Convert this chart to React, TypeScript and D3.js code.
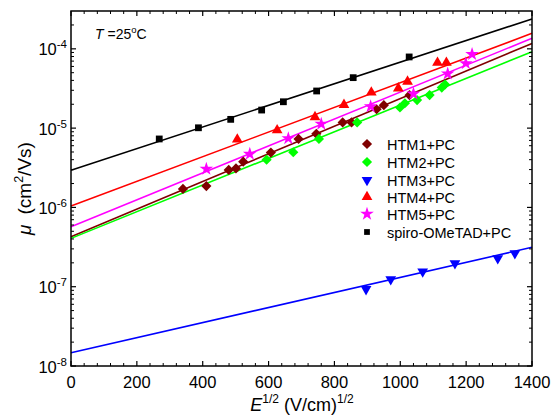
import React from "react";
import * as d3 from "d3";

// ---- data ----
const xTicks = [0, 200, 400, 600, 800, 1000, 1200, 1400];
const yDecades = [1e-8, 1e-7, 1e-6, 1e-5, 1e-4];
const yExp = ["-8", "-7", "-6", "-5", "-4"];

const htm1X = [340, 411, 479, 501, 523, 607, 691, 745, 825, 852, 928, 950, 1028];
const htm1Y = [1.71e-6, 1.86e-6, 2.97e-6, 3.1e-6, 3.77e-6, 4.92e-6, 7.3e-6, 8.48e-6, 1.18e-5, 1.18e-5, 1.73e-5, 1.95e-5, 2.6e-5];

const htm2X = [594, 675, 753, 869, 999, 1014, 1051, 1089, 1126, 1136];
const htm2Y = [4.0e-6, 4.96e-6, 7.3e-6, 1.18e-5, 1.82e-5, 2.06e-5, 2.26e-5, 2.61e-5, 3.25e-5, 3.55e-5];

const htm3X = [896, 971, 1068, 1166, 1296, 1348];
const htm3Y = [9.3e-8, 1.24e-7, 1.55e-7, 1.97e-7, 2.28e-7, 2.64e-7];

const htm4X = [505, 626, 741, 829, 912, 994, 1022, 1113, 1140];
const htm4Y = [7.2e-6, 9.4e-6, 1.38e-5, 1.97e-5, 2.82e-5, 3.18e-5, 3.87e-5, 6.68e-5, 6.68e-5];

const htm5X = [411, 543, 660, 760, 910, 1040, 1144, 1199, 1218];
const htm5Y = [3.05e-6, 4.71e-6, 7.43e-6, 1.13e-5, 1.88e-5, 2.71e-5, 4.85e-5, 6.56e-5, 8.53e-5];

const spiroX = [268, 387, 485, 579, 645, 746, 857, 1027];
const spiroY = [7.3e-6, 1.01e-5, 1.29e-5, 1.69e-5, 2.15e-5, 2.94e-5, 4.33e-5, 7.9e-5];

// fitted lines: value at E^1/2 = 0 and at 1400
const fitStart = [4.27e-7, 4.07e-7, 1.47e-8, 1.04e-6, 5.7e-7, 2.95e-6];
const fitEnd = [1.17e-4, 9.2e-5, 3.14e-7, 1.57e-4, 1.36e-4, 2.38e-4];

const names = ["HTM1+PC", "HTM2+PC", "HTM3+PC", "HTM4+PC", "HTM5+PC", "spiro-OMeTAD+PC"];
const colors = ["#800000", "#00ff00", "#0000ff", "#ff0000", "#ff00ff", "#000000"];
const shapes = ["diamond", "diamond", "tdown", "tup", "star", "square"];
const seriesX = [htm1X, htm2X, htm3X, htm4X, htm5X, spiroX];
const seriesY = [htm1Y, htm2Y, htm3Y, htm4Y, htm5Y, spiroY];

// ---- layout ----
const L = 71, R = 532, T = 11, B = 366;
const FONT = "'Liberation Sans', Arial, sans-serif";

function symPath(shape: string): { d: string; rot: number } {
  if (shape === "diamond") return { d: d3.symbol(d3.symbolSquare, 52)()!, rot: 45 };
  if (shape === "square") return { d: d3.symbol(d3.symbolSquare, 46)()!, rot: 0 };
  if (shape === "tup") return { d: d3.symbol(d3.symbolTriangle, 50)()!, rot: 0 };
  if (shape === "tdown") return { d: d3.symbol(d3.symbolTriangle, 50)()!, rot: 180 };
  return { d: d3.symbol(d3.symbolStar, 58)()!, rot: 0 };
}

export default function App() {
  const x = d3.scaleLinear().domain([0, 1400]).range([L, R]);
  const y = d3.scaleLog().domain([1e-8, 3.0e-4]).range([B, T]);

  const xMinor = d3.range(0, 1401, 40).filter((v) => v % 200 !== 0);
  const yMinor: number[] = [];
  for (const dcd of yDecades) {
    for (let k = 2; k <= 9; k++) {
      const v = dcd * k;
      if (v < 3.0e-4 * 0.999) yMinor.push(v);
    }
  }

  const legendY = [144, 162, 180, 197, 214, 232];

  return (
    <svg width={552} height={418} style={{ position: "absolute", left: 0, top: 0, background: "#fff" }}>
      {/* fits */}
      {fitStart.map((s, i) => {
        const xs = [0, 1400];
        const b = (Math.log10(fitEnd[i]) - Math.log10(s)) / 1400;
        const lg = d3
          .line<number>()
          .x((v) => x(v))
          .y((v) => y(Math.pow(10, Math.log10(s) + b * v)));
        return <path key={"f" + i} d={lg(xs)!} stroke={colors[i]} strokeWidth={1.6} fill="none" />;
      })}
      {/* points */}
      {seriesX.map((xs, i) => {
        const sp = symPath(shapes[i]);
        return (
          <g key={"s" + i} fill={colors[i]}>
            {xs.map((xv, j) => (
              <path
                key={j}
                d={sp.d}
                transform={`translate(${x(xv)},${y(seriesY[i][j])}) rotate(${sp.rot})`}
              />
            ))}
          </g>
        );
      })}
      {/* frame */}
      <rect x={L} y={T} width={R - L} height={B - T} fill="none" stroke="#000" strokeWidth={1.5} />
      {/* x ticks */}
      {xTicks.map((v) => (
        <g key={"xt" + v}>
          <line x1={x(v)} x2={x(v)} y1={B} y2={B - 5} stroke="#000" strokeWidth={1.2} />
          <line x1={x(v)} x2={x(v)} y1={T} y2={T + 5} stroke="#000" strokeWidth={1.2} />
          <text x={x(v)} y={388} textAnchor="middle" fontFamily={FONT} fontSize={16.5}>
            {v}
          </text>
        </g>
      ))}
      {xMinor.map((v) => (
        <g key={"xm" + v}>
          <line x1={x(v)} x2={x(v)} y1={B} y2={B - 3} stroke="#000" strokeWidth={1} />
          <line x1={x(v)} x2={x(v)} y1={T} y2={T + 3} stroke="#000" strokeWidth={1} />
        </g>
      ))}
      {/* y ticks */}
      {yDecades.map((v, i) => (
        <g key={"yt" + i}>
          <line x1={L} x2={L + 5} y1={y(v)} y2={y(v)} stroke="#000" strokeWidth={1.2} />
          <line x1={R} x2={R - 5} y1={y(v)} y2={y(v)} stroke="#000" strokeWidth={1.2} />
          <text x={67} y={y(v) + 6.5} textAnchor="end" fontFamily={FONT} fontSize={16.5}>
            10
            <tspan fontSize={11.5} dy={-7}>
              {yExp[i]}
            </tspan>
          </text>
        </g>
      ))}
      {yMinor.map((v, i) => (
        <g key={"ym" + i}>
          <line x1={L} x2={L + 3} y1={y(v)} y2={y(v)} stroke="#000" strokeWidth={1} />
          <line x1={R} x2={R - 3} y1={y(v)} y2={y(v)} stroke="#000" strokeWidth={1} />
        </g>
      ))}
      {/* axis labels */}
      <text x={302} y={411} textAnchor="middle" fontFamily={FONT} fontSize={18}>
        <tspan fontStyle="italic">E</tspan>
        <tspan fontSize={12} dy={-8}>1/2</tspan>
        <tspan dy={8}> (V/cm)</tspan>
        <tspan fontSize={12} dy={-8}>1/2</tspan>
      </text>
      <text
        transform={`translate(31,${(T + B) / 2}) rotate(-90)`}
        textAnchor="middle"
        fontFamily={FONT}
        fontSize={19}
      >
        <tspan fontStyle="italic">μ</tspan>
        <tspan dx={10}>(cm</tspan>
        <tspan fontSize={12.5} dy={-8}>2</tspan>
        <tspan dy={8}>/Vs)</tspan>
      </text>
      {/* T label */}
      <text x={95} y={39} fontFamily={FONT} fontSize={14}>
        <tspan fontStyle="italic">T</tspan>
        <tspan>{" =25"}</tspan>
        <tspan fontSize={9.5} dy={-6}>o</tspan>
        <tspan dy={6}>C</tspan>
      </text>
      {/* legend */}
      {names.map((n, i) => {
        const sp = symPath(shapes[i]);
        return (
          <g key={"lg" + i}>
            <path
              d={sp.d}
              fill={colors[i]}
              transform={`translate(367,${legendY[i]}) rotate(${sp.rot}) scale(${shapes[i] === "square" ? 0.85 : 1})`}
            />
            <text x={387} y={legendY[i] + 5.5} fontFamily={FONT} fontSize={14.5}>
              {n}
            </text>
          </g>
        );
      })}
    </svg>
  );
}
